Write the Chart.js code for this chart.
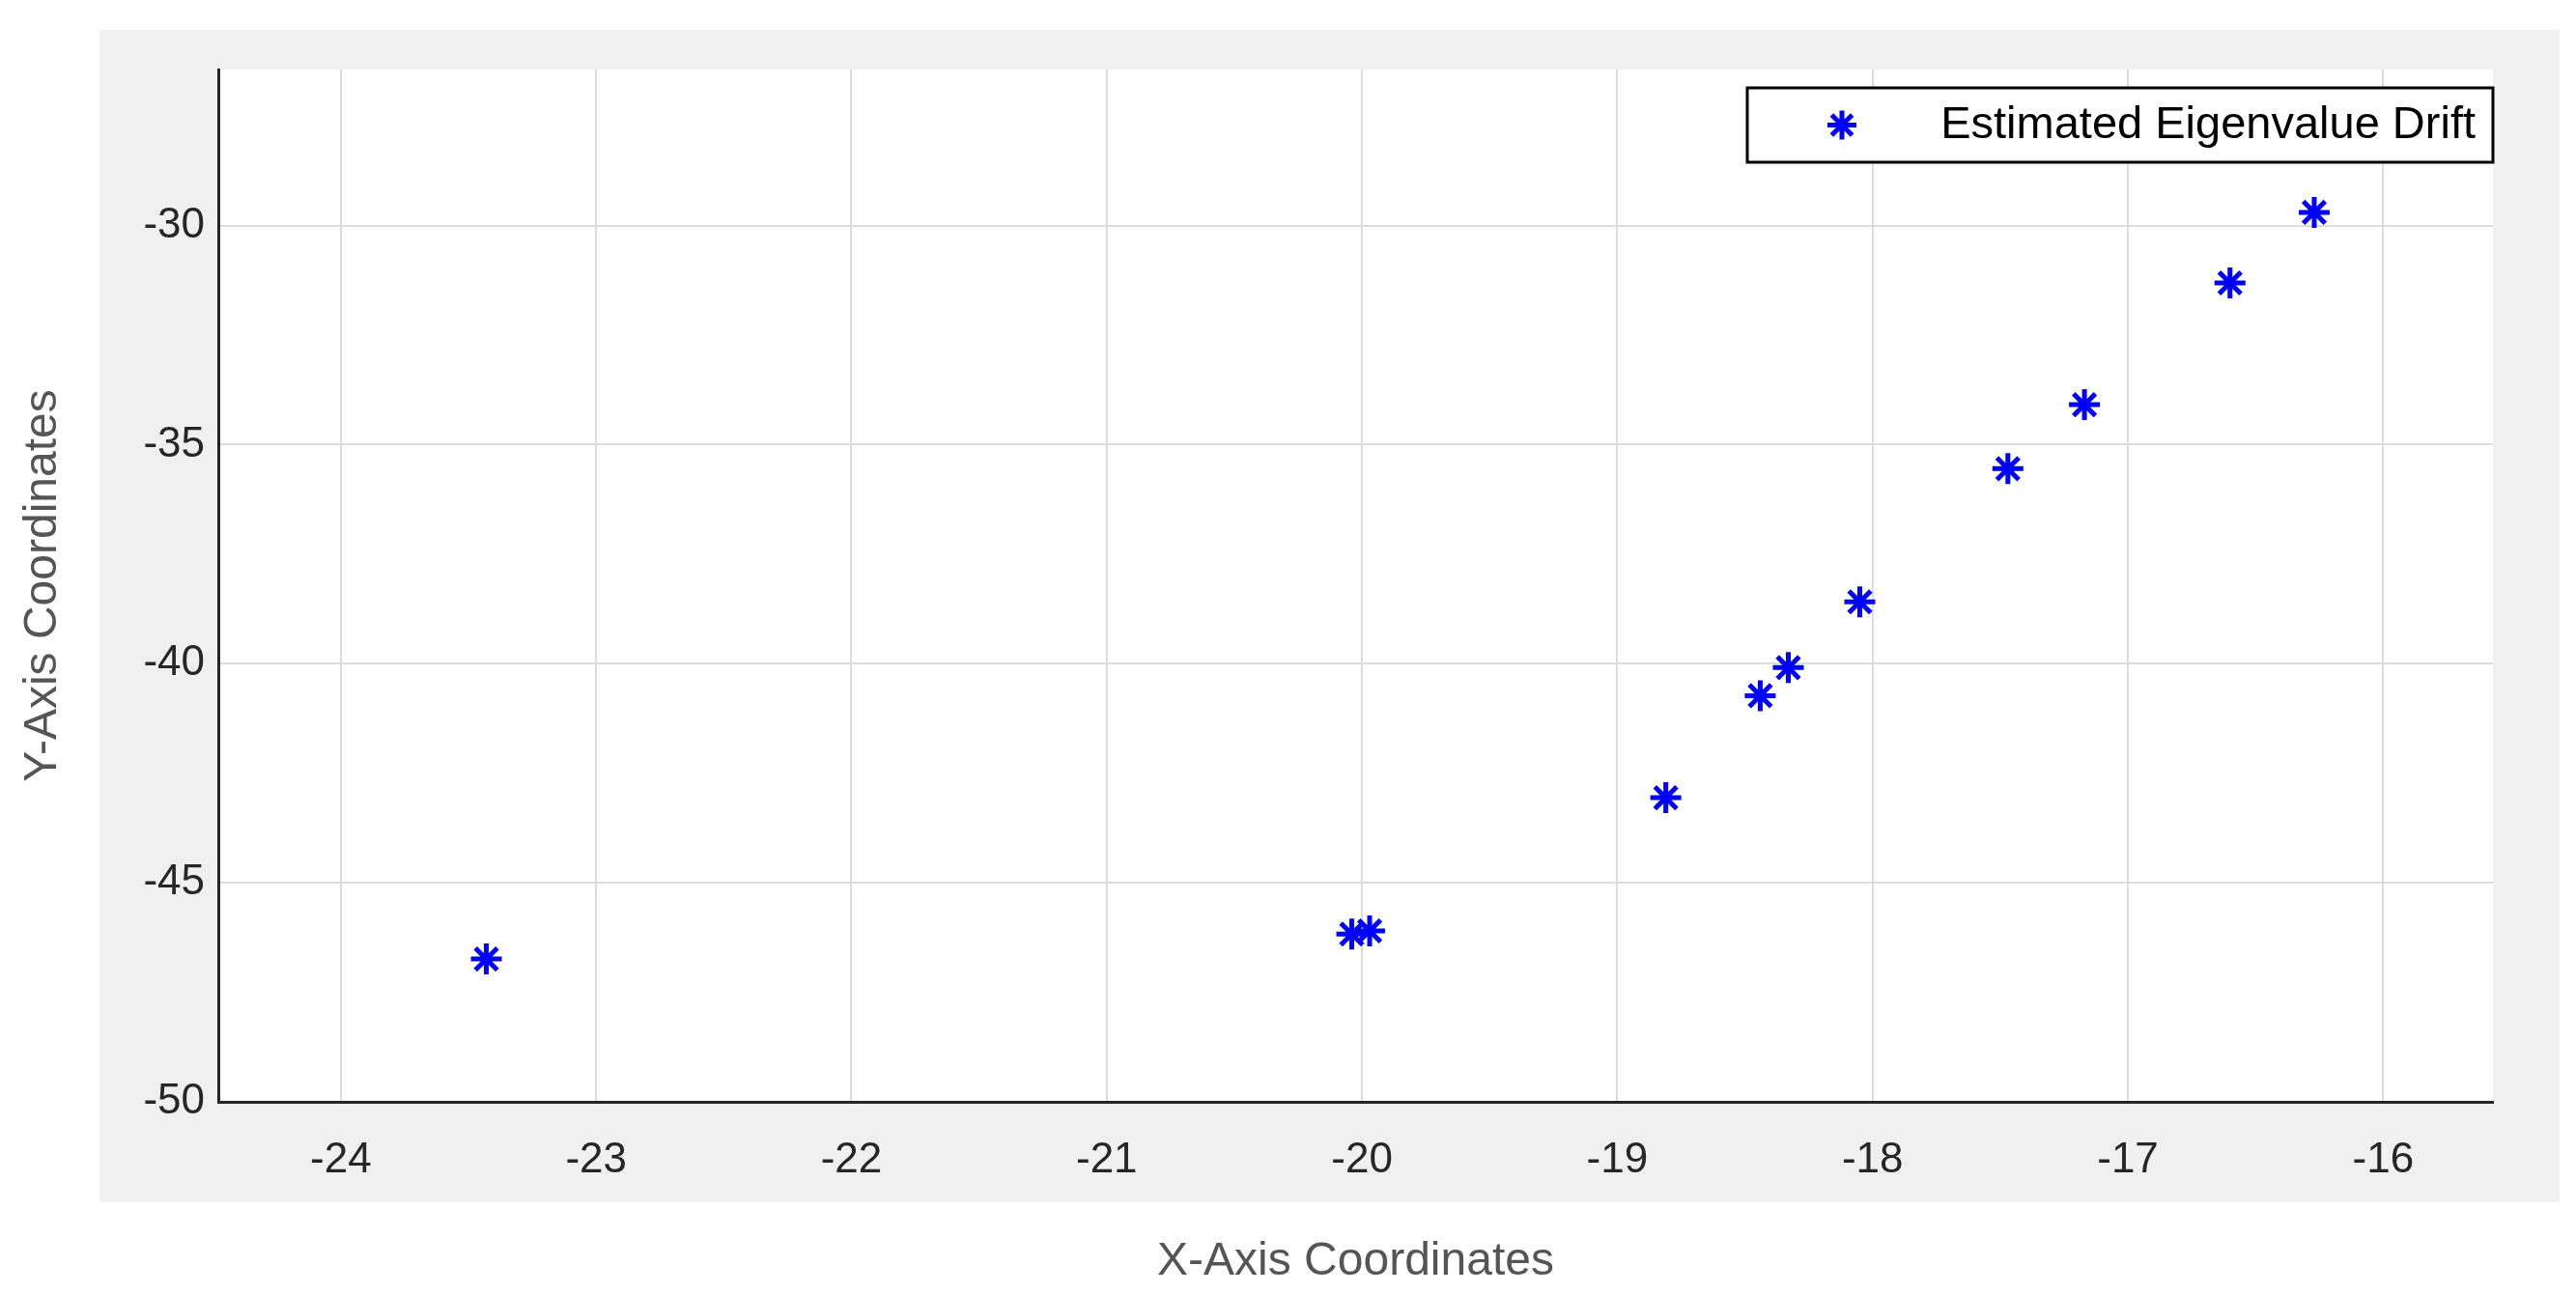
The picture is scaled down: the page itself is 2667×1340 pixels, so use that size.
<!DOCTYPE html>
<html><head><meta charset="utf-8">
<script src="https://cdn.jsdelivr.net/npm/chart.js@4/dist/chart.umd.min.js"></script>
<style>html,body{margin:0;padding:0;background:#fff}#c{display:block}</style>
</head><body>
<canvas id="c" width="2667" height="1340" style="width:2667px;height:1340px"></canvas>
<script>
const seriesName = "Estimated Eigenvalue Drift";
const xValues = [-23.43, -20.04, -19.97, -18.81, -18.44, -18.33, -18.05, -17.47, -17.17, -16.60, -16.27];
const yValues = [-46.74, -46.17, -46.10, -43.06, -40.73, -40.09, -38.59, -35.55, -34.09, -31.31, -29.70];
const xTicks = [-24, -23, -22, -21, -20, -19, -18, -17, -16];
const yTicks = [-50, -45, -40, -35, -30];

const bgPlugin = {
  id: 'bg',
  beforeDraw(chart) {
    const ctx = chart.ctx, a = chart.chartArea;
    ctx.save();
    ctx.fillStyle = '#fff'; ctx.fillRect(0, 0, chart.width, chart.height);
    ctx.fillStyle = '#f0f0f0'; ctx.fillRect(103, 31, 2547, 1214);
    ctx.fillStyle = '#fff'; ctx.fillRect(a.left, a.top, a.right - a.left, a.bottom - a.top);
    ctx.restore();
  },
  afterDraw(chart) {
    const ctx = chart.ctx, a = chart.chartArea;
    ctx.save();
    const bx = 1809, by = 91, bw = a.right - 1809, bh = 77;
    ctx.fillStyle = '#fff'; ctx.fillRect(bx, by, bw, bh);
    ctx.strokeStyle = '#000'; ctx.lineWidth = 3; ctx.strokeRect(bx, by, bw, bh);
    const mx = 1907, my = by + bh / 2, r = 15;
    ctx.strokeStyle = '#0000ff'; ctx.lineWidth = 5;
    ctx.beginPath();
    for (let i = 0; i < 4; i++) {
      const t = i * Math.PI / 4 + Math.PI / 2;
      ctx.moveTo(mx + r * Math.cos(t), my + r * Math.sin(t));
      ctx.lineTo(mx - r * Math.cos(t), my - r * Math.sin(t));
    }
    ctx.stroke();
    ctx.fillStyle = '#000'; ctx.font = '47px "Liberation Sans", Arial, sans-serif';
    ctx.textBaseline = 'middle'; ctx.textAlign = 'right';
    ctx.fillText(seriesName, a.right - 18, my + 1);
    ctx.restore();
  }
};

new Chart(document.getElementById('c'), {
  type: 'scatter',
  data: { datasets: [{
    label: seriesName,
    data: xValues.map((x, i) => ({ x, y: yValues[i] })),
    pointStyle: 'star', radius: 16, borderWidth: 5, rotation: 0,
    borderColor: '#0000ff', backgroundColor: '#0000ff'
  }]},
  options: {
    responsive: false, animation: false, devicePixelRatio: 1,
    layout: { padding: { top: 72, right: 86, left: 0, bottom: 0 } },
    plugins: { legend: { display: false }, tooltip: { enabled: false } },
    scales: {
      x: {
        type: 'linear', min: -24.48, max: -15.57,
        afterFit(s) { s.height = 199; },
        afterBuildTicks(s) { s.ticks = xTicks.map(v => ({ value: v })); },
        grid: { color: '#dcdcdc', lineWidth: 2, drawTicks: false },
        border: { color: '#262626', width: 3 },
        ticks: { color: '#262626', padding: 34, font: { family: '"Liberation Sans", Arial', size: 44 } },
        title: { display: true, text: 'X-Axis Coordinates', color: '#555', padding: { top: 0, bottom: 4 }, font: { family: '"Liberation Sans", Arial', size: 48 } }
      },
      y: {
        type: 'linear', min: -50, max: -26.44,
        afterFit(s) { s.width = 226; },
        afterBuildTicks(s) { s.ticks = yTicks.map(v => ({ value: v })); },
        grid: { color: '#dcdcdc', lineWidth: 2, drawTicks: false },
        border: { color: '#262626', width: 3 },
        ticks: { color: '#262626', padding: 14, font: { family: '"Liberation Sans", Arial', size: 44 } },
        title: { display: true, text: 'Y-Axis Coordinates', color: '#555', padding: { top: 16, bottom: 0 }, font: { family: '"Liberation Sans", Arial', size: 48 } }
      }
    }
  },
  plugins: [bgPlugin]
});
</script>
</body></html>
